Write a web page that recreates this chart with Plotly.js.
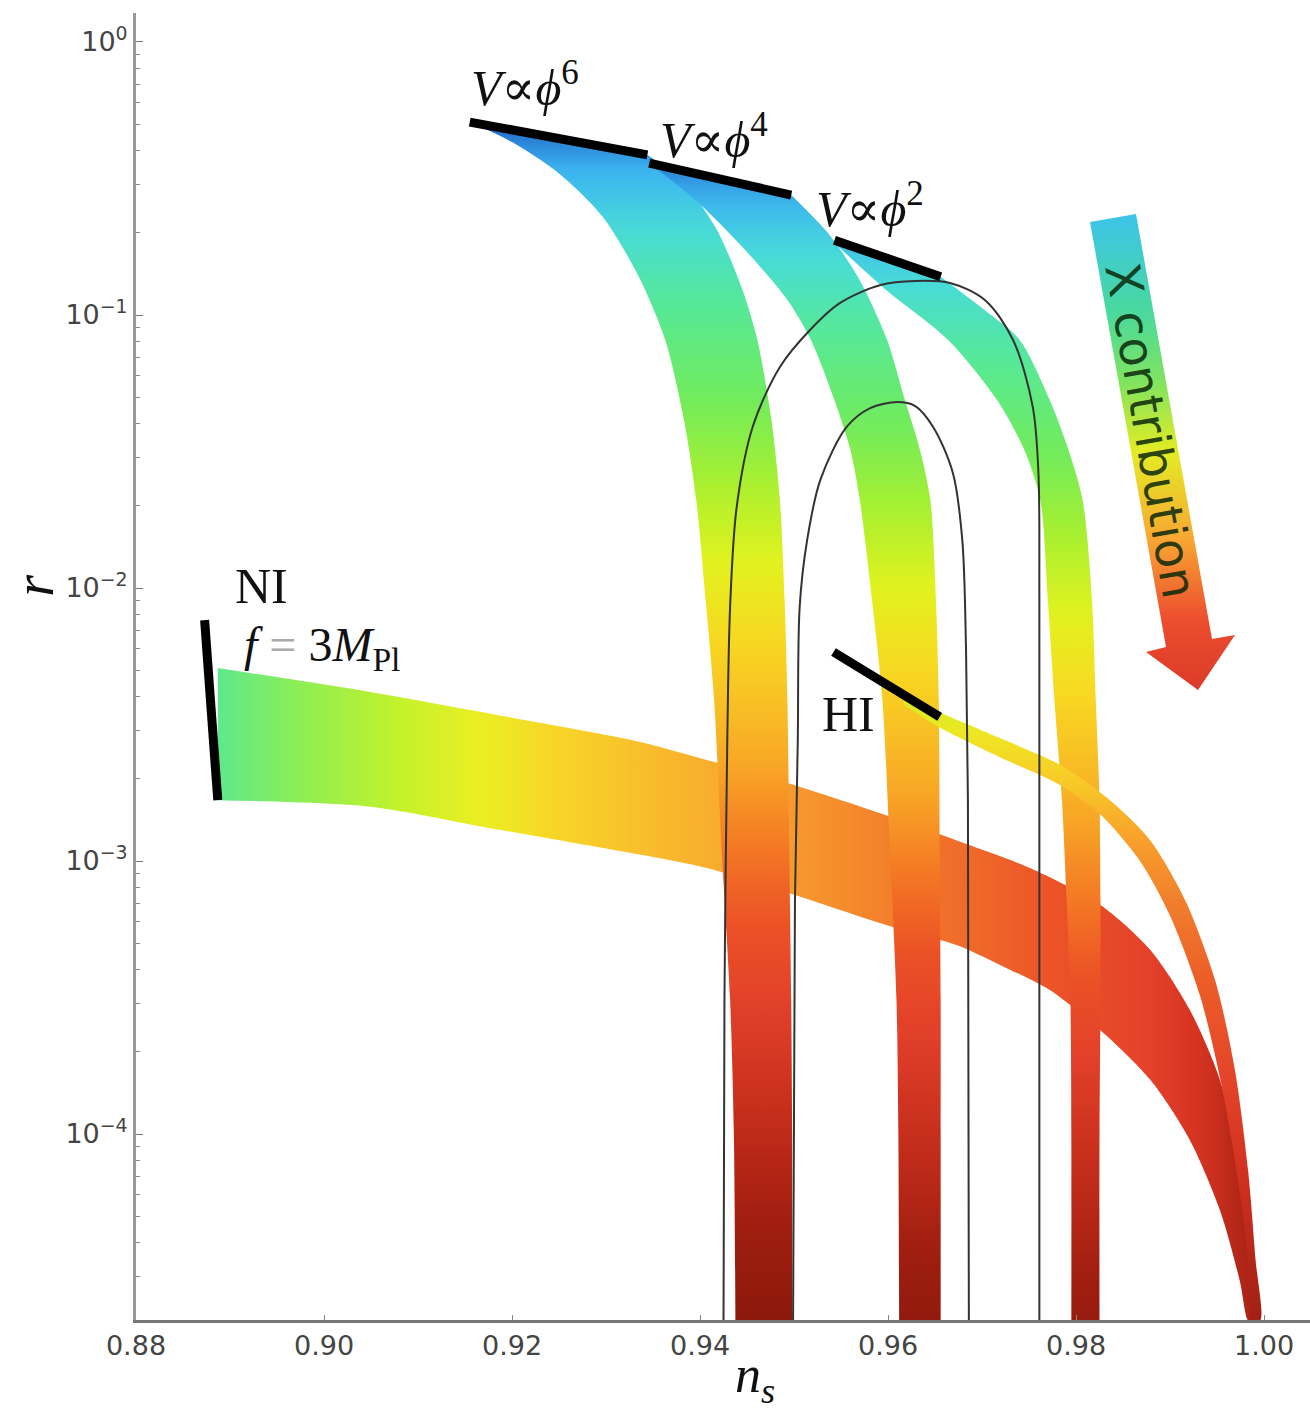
<!DOCTYPE html>
<html><head><meta charset="utf-8">
<script src="https://cdn.plot.ly/plotly-3.0.1.min.js"></script>
<style>html,body{margin:0;padding:0;background:#fff}#chart{width:1310px;height:1428px}</style>
</head><body><div id="chart"></div>
<script>
// ---------- data (n_s , r) ----------
const xTickVals = [0.88, 0.90, 0.92, 0.94, 0.96, 0.98, 1.00];
const xTickText = ['0.88', '0.90', '0.92', '0.94', '0.96', '0.98', '1.00'];
const yTickVals = [1, 0.1, 0.01, 0.001, 0.0001];
const yTickText = ['10<sup>0</sup>', '10<sup>−1</sup>', '10<sup>−2</sup>', '10<sup>−3</sup>', '10<sup>−4</sup>'];

// V ∝ phi^6 band (edges continue straight down past the bottom of the axis)
const phi6BandLeftNs  = [0.9155, 0.9200, 0.9250, 0.9296, 0.9334, 0.9363, 0.9383, 0.9396, 0.9406, 0.9415, 0.9423, 0.9432, 0.9436, 0.9438, 0.9438];
const phi6BandLeftR   = [0.509, 0.430, 0.330, 0.230, 0.140, 0.0810, 0.0412, 0.0210, 0.00904, 0.00389, 0.00110, 3.10e-4, 1.0e-4, 1.0e-5, 1.0e-7];
const phi6BandRightNs = [0.9344, 0.9384, 0.9418, 0.9445, 0.9461, 0.9476, 0.9485, 0.9490, 0.9493, 0.9495, 0.9497, 0.9498, 0.9498, 0.9498];
const phi6BandRightR  = [0.386, 0.300, 0.205, 0.124, 0.0810, 0.0412, 0.0210, 0.00904, 0.00389, 0.00110, 3.10e-4, 1.0e-4, 1.0e-5, 1.0e-7];
// V ∝ phi^4 band
const phi4BandLeftNs  = [0.9346, 0.9398, 0.9450, 0.9493, 0.9518, 0.9543, 0.9560, 0.9570, 0.9583, 0.9594, 0.9602, 0.9609, 0.9611, 0.9612, 0.9612];
const phi4BandLeftR   = [0.360, 0.258, 0.170, 0.1135, 0.0810, 0.0488, 0.0320, 0.0210, 0.00904, 0.00389, 0.00110, 3.10e-4, 1.0e-4, 1.0e-5, 1.0e-7];
const phi4BandRightNs = [0.9497, 0.9538, 0.9570, 0.9599, 0.9618, 0.9634, 0.9645, 0.9651, 0.9654, 0.9655, 0.9656, 0.9656, 0.9656, 0.9656];
const phi4BandRightR  = [0.275, 0.196, 0.134, 0.0810, 0.0488, 0.0320, 0.0210, 0.00904, 0.00389, 0.00110, 3.10e-4, 1.0e-4, 1.0e-5, 1.0e-7];
// V ∝ phi^2 band
const phi2BandLeftNs  = [0.9543, 0.9598, 0.9664, 0.9716, 0.9745, 0.9762, 0.9770, 0.9777, 0.9785, 0.9790, 0.9794, 0.9795, 0.9795, 0.9795];
const phi2BandLeftR   = [0.1835, 0.1235, 0.0810, 0.0488, 0.0320, 0.0210, 0.00904, 0.00389, 0.00167, 7.20e-4, 3.10e-4, 1.0e-4, 1.0e-5, 1.0e-7];
const phi2BandRightNs = [0.9656, 0.9703, 0.9740, 0.9772, 0.9792, 0.9807, 0.9817, 0.9821, 0.9825, 0.9826, 0.9826, 0.9825, 0.9825, 0.9825];
const phi2BandRightR  = [0.138, 0.104, 0.0810, 0.0488, 0.0320, 0.0210, 0.00904, 0.00389, 0.00167, 7.20e-4, 3.10e-4, 1.0e-4, 1.0e-5, 1.0e-7];
// Natural inflation band
const niBandUpperNs = [0.8887, 0.9049, 0.9212, 0.9336, 0.9416, 0.9506, 0.9598, 0.9673, 0.9751, 0.9826, 0.9879, 0.9921, 0.9953, 0.9974, 0.9985, 0.9987];
const niBandUpperR  = [0.00509, 0.00416, 0.00329, 0.00273, 0.00230, 0.00187, 0.00147, 0.00119, 9.43e-4, 6.90e-4, 4.72e-4, 2.85e-4, 1.58e-4, 7.38e-5, 3.46e-5, 2.08e-5];
const niBandLowerNs = [0.8887, 0.9049, 0.9171, 0.9294, 0.9407, 0.9501, 0.9598, 0.9673, 0.9719, 0.9772, 0.9826, 0.9879, 0.9921, 0.9953, 0.9974, 0.9983];
const niBandLowerR  = [0.00167, 0.00158, 0.00133, 0.00112, 9.43e-4, 7.51e-4, 5.83e-4, 4.92e-4, 4.16e-4, 3.37e-4, 2.40e-4, 1.58e-4, 9.51e-5, 5.27e-5, 2.92e-5, 2.08e-5];
// Higgs inflation band
const hiBandUpperNs = [0.9613, 0.9655, 0.9719, 0.9783, 0.9836, 0.9879, 0.9916, 0.9948, 0.9969, 0.9983, 0.9991, 0.9996];
const hiBandUpperR  = [0.00412, 0.00351, 0.00282, 0.00225, 0.00167, 0.00119, 7.20e-4, 3.66e-4, 1.72e-4, 7.38e-5, 3.46e-5, 2.08e-5];
const hiBandLowerNs = [0.9618, 0.9650, 0.9719, 0.9783, 0.9826, 0.9868, 0.9900, 0.9932, 0.9955, 0.9972, 0.9983, 0.9987];
const hiBandLowerR  = [0.00373, 0.00315, 0.00240, 0.00190, 0.00148, 0.00100, 6.30e-4, 3.20e-4, 1.50e-4, 6.90e-5, 3.46e-5, 2.08e-5];
// Thick black reference segments (pure models)
const phi6LineNs = [0.9155, 0.9344], phi6LineR = [0.509, 0.386];
const phi4LineNs = [0.9346, 0.9497], phi4LineR = [0.360, 0.275];
const phi2LineNs = [0.9543, 0.9656], phi2LineR = [0.188, 0.138];
const niLineNs   = [0.8873, 0.8887], niLineR   = [0.00763, 0.00167];
const hiLineNs   = [0.9542, 0.9655], hiLineR   = [0.00583, 0.00337];
// Observational contours
const outerContourNs = [0.9425, 0.9426, 0.9429, 0.9432, 0.9439, 0.9456, 0.9485, 0.9517, 0.9549, 0.9592, 0.9629, 0.9666, 0.9703, 0.9733, 0.9754, 0.9760, 0.9761, 0.9761];
const outerContourR  = [2.08e-5, 3.10e-4, 0.00277, 0.00852, 0.0198, 0.0389, 0.0645, 0.0881, 0.1107, 0.1288, 0.1332, 0.1310, 0.1135, 0.0810, 0.0460, 0.0264, 0.00904, 2.08e-5];
const innerContourNs = [0.9499, 0.9501, 0.9504, 0.9506, 0.9514, 0.9528, 0.9556, 0.9581, 0.9610, 0.9629, 0.9648, 0.9669, 0.9679, 0.9683, 0.9685, 0.9686];
const innerContourR  = [2.08e-5, 7.20e-4, 0.00277, 0.00852, 0.0150, 0.0249, 0.0389, 0.0456, 0.0480, 0.0464, 0.0389, 0.0264, 0.0150, 0.00593, 0.00167, 2.08e-5];

// ---------- colour keys ----------
const bandColorR = [0.51, 0.34, 0.205, 0.113, 0.049, 0.0249, 0.0127, 0.0065, 0.00234, 0.00119, 6.08e-4, 3.10e-4, 1.13e-4, 4.84e-5, 2.08e-5];
const bandColors = ['#1e64c8','#3cb4f0','#48dcd8','#55e89a','#72ec5a','#a8f030','#e2f21e','#f8d822','#f8a826','#f47a24','#ec5226','#e2402a','#c22c1a','#a01e10','#8a180c'];
const niColorNs = [0.8887, 0.8975, 0.9081, 0.9166, 0.9252, 0.9347, 0.9453, 0.9560, 0.9666, 0.9772, 0.9879, 0.9936, 0.9985];
const niColors  = ['#5ee88c','#8eee52','#c4f22c','#ecee22','#f8d428','#f8bc2c','#f8a42e','#f48a2c','#f06e2a','#ec5428','#e4402a','#d23220','#a82214'];
const hiColorR = [0.0041, 0.0028, 0.0019, 0.0012, 7e-4, 3.6e-4, 1.6e-4, 7e-5, 2.08e-5];
const hiColors = ['#d4f020','#f0e424','#f8c828','#f8a02c','#f07e2c','#ec5c28','#e4442a','#d0301e','#a02014'];

// ---------- helpers ----------
function hexToRgb(h){return [parseInt(h.slice(1,3),16),parseInt(h.slice(3,5),16),parseInt(h.slice(5,7),16)];}
function interpColor(keys, cols, v){
  if(v <= keys[0]) return cols[0];
  if(v >= keys[keys.length-1]) return cols[cols.length-1];
  for(let i=0;i<keys.length-1;i++){
    if(v>=keys[i] && v<=keys[i+1]){
      const t=(v-keys[i])/(keys[i+1]-keys[i]); const a=hexToRgb(cols[i]), b=hexToRgb(cols[i+1]);
      return 'rgb('+a.map((c,j)=>Math.round(c+(b[j]-c)*t)).join(',')+')';
    }
  }
}
function scaleFrom(lo, hi, keys, cols, shift){
  const s=[]; const n=80;
  for(let i=0;i<=n;i++){const f=i/n; s.push([f, interpColor(keys, cols, lo+f*(hi-lo)+shift)]);}
  return s;
}
const L = v => Math.log10(v);
const bandKeys = bandColorR.map(L).reverse(), bandCols = bandColors.slice().reverse();
const hiKeys = hiColorR.map(L).reverse(), hiCols = hiColors.slice().reverse();

function vBand(leftNs, leftR, rightNs, rightR, shift){
  const x = leftNs.concat(rightNs.slice().reverse());
  const y = leftR.concat(rightR.slice().reverse());
  const lo = L(Math.min(...y)), hi = L(Math.max(...y));
  return {x, y, type:'scatter', mode:'lines', fill:'toself', hoverinfo:'skip',
    line:{width:0, shape:'spline', smoothing:0.8, color:'rgba(0,0,0,0)'},
    fillgradient:{type:'vertical', colorscale: scaleFrom(lo, hi, bandKeys, bandCols, shift)}};
}
function line(x, y, w, c, spline){
  return {x, y, type:'scatter', mode:'lines', hoverinfo:'skip',
    line:{color:c, width:w, shape: spline ? 'spline' : 'linear', smoothing: 0.9}};
}

const niX = niBandUpperNs.concat(niBandLowerNs.slice().reverse());
const niY = niBandUpperR.concat(niBandLowerR.slice().reverse());
const niTrace = {x:niX, y:niY, type:'scatter', mode:'lines', fill:'toself', hoverinfo:'skip',
  line:{width:0, shape:'spline', smoothing:0.8, color:'rgba(0,0,0,0)'},
  fillgradient:{type:'horizontal', colorscale: scaleFrom(Math.min(...niX), Math.max(...niX), niColorNs, niColors, 0)}};

const hiX = hiBandUpperNs.concat(hiBandLowerNs.slice().reverse());
const hiY = hiBandUpperR.concat(hiBandLowerR.slice().reverse());
const hiTrace = {x:hiX, y:hiY, type:'scatter', mode:'lines', fill:'toself', hoverinfo:'skip',
  line:{width:0, shape:'spline', smoothing:0.8, color:'rgba(0,0,0,0)'},
  fillgradient:{type:'vertical', colorscale: scaleFrom(L(Math.min(...hiY)), L(Math.max(...hiY)), hiKeys, hiCols, 0)}};

// decorative "X contribution" arrow, drawn on a hidden pixel-like overlay axis
const arrowOutlineX = [1090, 1136, 1212, 1235, 1198, 1146, 1166, 1090];
const arrowOutlineY = [222, 214, 639, 635, 690, 652, 647, 222];
const arrowTrace = {x:arrowOutlineX, y:arrowOutlineY, xaxis:'x2', yaxis:'y2', type:'scatter', mode:'none',
  fill:'toself', hoverinfo:'skip',
  fillgradient:{type:'vertical', colorscale:[[0,'#dc3a28'],[0.15,'#ec4e2e'],[0.32,'#f8a832'],[0.5,'#e4ec24'],[0.65,'#7ee460'],[0.8,'#48d8a0'],[1,'#3cc4ea']]}};

// minor tick positions on the log axis (2..9 per decade)
const yMinorVals = [];
for (let k = -5; k <= -1; k++) for (let m = 2; m <= 9; m++) yMinorVals.push(m * Math.pow(10, k));

const data = [
  niTrace,
  vBand(phi6BandLeftNs, phi6BandLeftR, phi6BandRightNs, phi6BandRightR, 0),
  vBand(phi4BandLeftNs, phi4BandLeftR, phi4BandRightNs, phi4BandRightR, 0.1),
  vBand(phi2BandLeftNs, phi2BandLeftR, phi2BandRightNs, phi2BandRightR, 0.2),
  hiTrace,
  line(outerContourNs, outerContourR, 2, '#333', true),
  line(innerContourNs, innerContourR, 2, '#333', true),
  line(phi6LineNs, phi6LineR, 9, '#000'),
  line(phi4LineNs, phi4LineR, 9, '#000'),
  line(phi2LineNs, phi2LineR, 9, '#000'),
  line(niLineNs, niLineR, 9, '#000'),
  line(hiLineNs, hiLineR, 9, '#000'),
  arrowTrace
];

const serif = 'Liberation Serif, DejaVu Serif, serif';
function ann(text, x, y, size, extra){
  return Object.assign({text, x, y, xref:'x2', yref:'y2', showarrow:false, xanchor:'center', yanchor:'middle',
    font:{family:serif, size, color:'#111'}}, extra||{});
}
const layout = {
  width:1310, height:1428, showlegend:false,
  paper_bgcolor:'#fff', plot_bgcolor:'#fff',
  margin:{l:136, r:0, t:13, b:108},
  xaxis:{range:[0.88, 1.00489], showgrid:false, zeroline:false, showline:true, linecolor:'#777', linewidth:3,
    ticks:'inside', ticklen:5, tickcolor:'#888', tickmode:'array', tickvals:xTickVals, ticktext:xTickText,
    tickfont:{family:'DejaVu Sans', size:27, color:'#444'}},
  yaxis:{type:'log', range:[-4.6813, 0.1062], showgrid:false, zeroline:false, showline:true, linecolor:'#999', linewidth:3,
    ticks:'inside', ticklen:7, tickcolor:'#777', tickmode:'array', tickvals:yTickVals, ticktext:yTickText,
    tickfont:{family:'DejaVu Sans', size:27, color:'#444'},
    minor:{ticks:'inside', ticklen:4, tickcolor:'#888', tickmode:'array', tickvals:yMinorVals, showgrid:false}},
  xaxis2:{overlaying:'x', range:[136, 1310], visible:false, fixedrange:true},
  yaxis2:{overlaying:'y', range:[1320, 13], visible:false, fixedrange:true},
  annotations:[
    ann('<i>V</i>∝<i>ϕ</i><sup>6</sup>', 525, 84, 50),
    ann('<i>V</i>∝<i>ϕ</i><sup>4</sup>', 714, 136, 50),
    ann('<i>V</i>∝<i>ϕ</i><sup>2</sup>', 870, 205, 50),
    ann('NI', 261, 586, 50),
    ann('<i>f</i> <span style="color:#aaa">=</span> 3<i>M</i><sub>Pl</sub>', 322, 648, 48),
    ann('HI', 848, 714, 50),
    ann('X contribution', 1151, 430, 48, {textangle:80, font:{family:'DejaVu Sans', size:48, color:'rgba(10,40,10,0.85)'}}),
    {text:'<i>r</i>', xref:'paper', yref:'paper', x:-0.087, y:0.5616, xanchor:'center', yanchor:'middle',
     showarrow:false, textangle:-90, font:{family:serif, size:56, color:'#111'}},
    {text:'<i>n</i><sub><i>s</i></sub>', xref:'paper', yref:'paper', x:0.5272, y:-0.0185, xanchor:'center', yanchor:'top',
     showarrow:false, font:{family:serif, size:52, color:'#111'}}
  ]
};
Plotly.newPlot('chart', data, layout, {staticPlot:true, displayModeBar:false});
</script>
</body></html>
